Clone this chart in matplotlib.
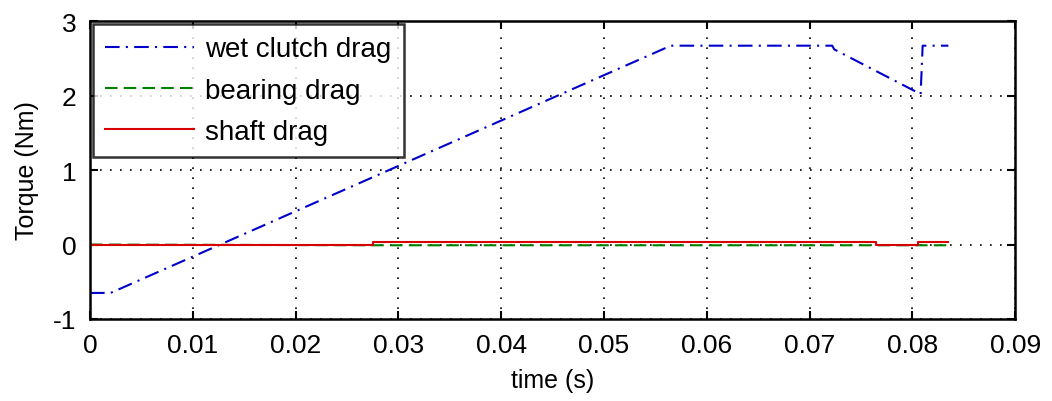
import numpy as np
import matplotlib
matplotlib.use("Agg")
from matplotlib import pyplot as plt

# wet clutch drag torque (Nm) vs time (s)
wet_t = [0.0, 0.002, 0.0565, 0.0722, 0.0724, 0.0808, 0.081, 0.0835]
wet_y = [-0.65, -0.65, 2.67, 2.67, 2.62, 2.02, 2.67, 2.67]

# bearing drag
bear_t = [0.0, 0.0275, 0.0835]
bear_y = [0.0, -0.01, -0.01]

# shaft drag
shaft_t = [0.0, 0.0275, 0.0275, 0.0765, 0.0765, 0.0805, 0.0805, 0.0835]
shaft_y = [0.0, 0.0, 0.03, 0.03, 0.0, 0.0, 0.03, 0.03]

x_ticks = [0, 0.01, 0.02, 0.03, 0.04, 0.05, 0.06, 0.07, 0.08, 0.09]
x_labels = ["0", "0.01", "0.02", "0.03", "0.04", "0.05", "0.06", "0.07", "0.08", "0.09"]
y_ticks = [-1, 0, 1, 2, 3]
y_labels = ["-1", "0", "1", "2", "3"]

plt.rcParams['font.family'] = ['Liberation Sans', 'DejaVu Sans']
plt.rcParams['axes.unicode_minus'] = False

fig = plt.figure(figsize=(10.52, 4.02), dpi=100)
ax = fig.add_axes([0.0856, 0.204, 0.8794, 0.741])

ax.plot(wet_t, wet_y, color=(0, 0, 0.8), ls='-', dashes=(7, 3, 1, 3), lw=1.5,
        label='wet clutch drag')
ax.plot(bear_t, bear_y, color=(0, 0.5, 0), ls='--', dashes=(6, 3), lw=1.5,
        label='bearing drag')
ax.plot(shaft_t, shaft_y, color=(0.85, 0, 0), ls='-', lw=1.5, label='shaft drag')

ax.set_xlim(0, 0.09)
ax.set_ylim(-1, 3)
ax.set_xticks(x_ticks)
ax.set_xticklabels(x_labels)
ax.set_yticks(y_ticks)
ax.set_yticklabels(y_labels)
ax.grid(True, color='black', ls=(0, (1, 5)), lw=1.2)
ax.tick_params(direction='in', top=True, right=True, length=6, width=1.5,
               labelsize=19, pad=10, colors='black')
for s in ax.spines.values():
    s.set_linewidth(1.8)

ax.set_xlabel('time (s)', fontsize=18, labelpad=8)
ax.set_ylabel('Torque (Nm)', fontsize=18, labelpad=10)

leg = ax.legend(loc='upper left', fontsize=20, frameon=True, fancybox=False,
                edgecolor='black', borderpad=0.45, handlelength=3.2,
                handletextpad=0.4, labelspacing=0.55, borderaxespad=0.1)
leg.get_frame().set_linewidth(1.8)

fig.savefig('out.png', dpi=100)
